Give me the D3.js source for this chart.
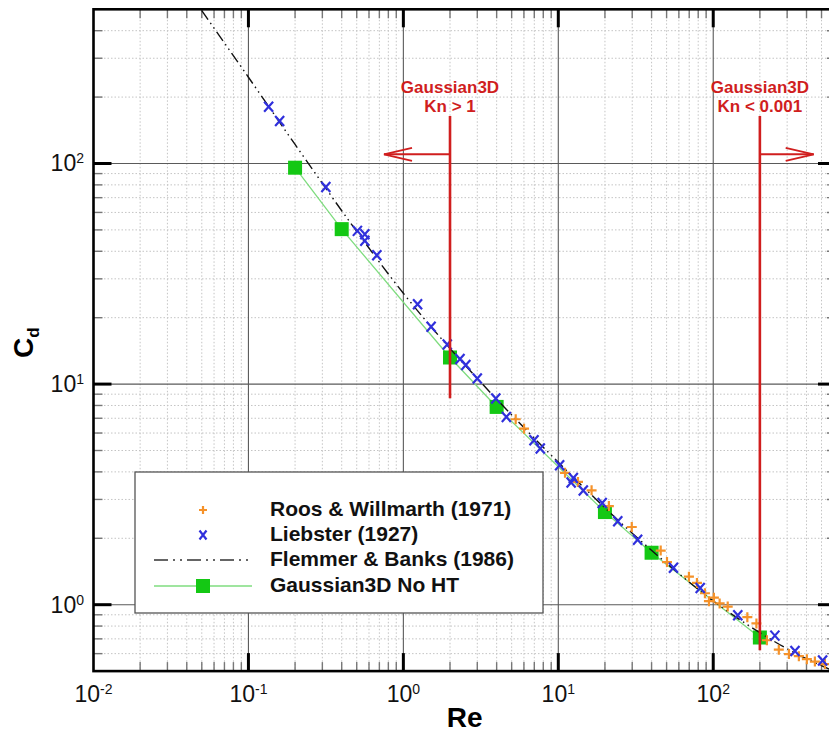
<!DOCTYPE html>
<html>
<head>
<meta charset="utf-8">
<script src="https://cdn.jsdelivr.net/npm/d3@7"></script>
<style>
  body { margin: 0; background: #fff; }
  svg { display: block; }
  text { font-family: "Liberation Sans", Arial, Helvetica, sans-serif; }
</style>
</head>
<body>
<svg id="chart" width="829" height="733"></svg>
<script>
// ---- data ----
const gaussRe = [0.2, 0.4, 2, 4, 20, 40, 200];
const gaussCd = [95.7, 50.4, 13.2, 7.88, 2.63, 1.72, 0.71];

const liebsterRe = [0.135, 0.159, 0.316, 0.505, 0.564, 0.564, 0.674, 1.235, 1.51, 1.92, 2.32, 2.53, 3.0, 3.95, 4.62, 6.97, 7.65, 10.2, 12.5, 12.1, 14.5, 19.2, 24.2, 32.5, 55.4, 82.4, 144, 250, 337, 508];
const liebsterCd = [180.6, 156, 78.3, 49.5, 47.8, 44.6, 38.4, 23.0, 18.2, 15.1, 13.0, 12.2, 10.6, 8.6, 7.1, 5.57, 5.11, 4.29, 3.75, 3.58, 3.29, 2.89, 2.39, 1.97, 1.47, 1.19, 0.896, 0.724, 0.617, 0.559];

const roosRe = [5.31, 6.01, 11.05, 13.4, 16.4, 21.2, 29.8, 45.8, 50.3, 69.7, 78.5, 88.4, 93.8, 101, 110, 124, 166, 190, 222, 265, 308, 357, 402, 453, 526];
const roosCd = [6.93, 6.28, 3.96, 3.60, 3.30, 2.80, 2.25, 1.76, 1.56, 1.34, 1.255, 1.127, 1.037, 1.076, 1.013, 0.981, 0.878, 0.822, 0.690, 0.625, 0.597, 0.584, 0.566, 0.552, 0.538];

const flemmerRe = [0.04, 0.05, 0.1, 0.2, 0.5, 1, 2, 3, 5, 10, 20, 30, 50, 100, 200, 300, 500, 620];
const flemmerCd = [616, 493, 246, 122, 49.2, 25.8, 14.5, 10.6, 7.25, 4.42, 2.75, 2.11, 1.54, 1.04, 0.747, 0.631, 0.529, 0.495];

const xTickExp = ["-2", "-1", "0", "1", "2"];
const xTickVal = [0.01, 0.1, 1, 10, 100];
const yTickExp = ["0", "1", "2"];
const yTickVal = [1, 10, 100];

const legendLabels = ["Roos & Willmarth (1971)", "Liebster (1927)", "Flemmer & Banks (1986)", "Gaussian3D No HT"];

// regime markers: Re at which the Knudsen limits sit, arrow span, label lines
const regimeRe = [2, 200];
const regimeArrowTip = [0.75, 445];
const regimeLabel = [["Gaussian3D", "Kn > 1"], ["Gaussian3D", "Kn < 0.001"]];
const regimeTopCd = [164, 164];
const regimeBottomCd = [8.63, 0.622];
const arrowCd = 110;

// ---- layout ----
const pL = 93.5, pT = 9.3, plotW = 742.5, plotH = 661.8;
const pB = pT + plotH, pR = pL + plotW;
const svg = d3.select("#chart");

const x = d3.scaleLog().domain([0.01, 620]).range([pL, pR]);
const y = d3.scaleLog().domain([0.5, 500]).range([pB, pT]);

const isDecade = v => Math.abs(Math.log10(v) - Math.round(Math.log10(v))) < 1e-9;
const xMinor = x.ticks().filter(v => !isDecade(v));
const yMinor = y.ticks().filter(v => !isDecade(v));
const xMajor = x.ticks().filter(isDecade);
const yMajor = y.ticks().filter(isDecade);

svg.append("defs").append("clipPath").attr("id", "plotClip")
  .append("rect").attr("x", pL).attr("y", pT).attr("width", plotW).attr("height", plotH);

// ---- grid ----
const grid = svg.append("g");
grid.selectAll("line.xm").data(xMinor).join("line")
  .attr("x1", d => x(d)).attr("x2", d => x(d)).attr("y1", pT).attr("y2", pB)
  .attr("stroke", "#c4c4c4").attr("stroke-width", 1).attr("stroke-dasharray", "1.5,2");
grid.selectAll("line.ym").data(yMinor).join("line")
  .attr("y1", d => y(d)).attr("y2", d => y(d)).attr("x1", pL).attr("x2", pR)
  .attr("stroke", "#c4c4c4").attr("stroke-width", 1).attr("stroke-dasharray", "1.5,2");
grid.selectAll("line.xM").data(xMajor).join("line")
  .attr("x1", d => x(d)).attr("x2", d => x(d)).attr("y1", pT).attr("y2", pB)
  .attr("stroke", "#5a5a5a").attr("stroke-width", 1.1);
grid.selectAll("line.yM").data(yMajor).join("line")
  .attr("y1", d => y(d)).attr("y2", d => y(d)).attr("x1", pL).attr("x2", pR)
  .attr("stroke", "#5a5a5a").attr("stroke-width", 1.1);

// ---- ticks on all four sides ----
const ticks = svg.append("g");
function tickSet(vals, len, w, col) {
  vals.forEach(v => {
    const px = x(v);
    ticks.append("line").attr("x1", px).attr("x2", px).attr("y1", pB).attr("y2", pB - len)
      .attr("stroke", col).attr("stroke-width", w);
    ticks.append("line").attr("x1", px).attr("x2", px).attr("y1", pT).attr("y2", pT + len)
      .attr("stroke", col).attr("stroke-width", w);
  });
}
function tickSetY(vals, len, w, col) {
  vals.forEach(v => {
    const py = y(v);
    ticks.append("line").attr("y1", py).attr("y2", py).attr("x1", pL).attr("x2", pL + len)
      .attr("stroke", col).attr("stroke-width", w);
    ticks.append("line").attr("y1", py).attr("y2", py).attr("x1", pR).attr("x2", pR - len)
      .attr("stroke", col).attr("stroke-width", w);
  });
}
tickSet(xMinor, 9, 1.4, "#777");
tickSetY(yMinor, 9, 1.4, "#777");
tickSet(xMajor.filter(v => v > 0.01), 18, 3, "#000");
tickSetY(yMajor, 18, 3, "#000");

// ---- data layer ----
const data = svg.append("g").attr("clip-path", "url(#plotClip)");

const gaussPts = gaussRe.map((r, i) => [x(r), y(gaussCd[i])]);
data.append("path").attr("d", d3.line()(gaussPts))
  .attr("fill", "none").attr("stroke", "#7fdc7f").attr("stroke-width", 1.3);
data.selectAll("rect.g").data(gaussPts).join("rect")
  .attr("x", d => d[0] - 7).attr("y", d => d[1] - 7).attr("width", 14).attr("height", 14)
  .attr("fill", "#14c814");

const flemPts = flemmerRe.map((r, i) => [x(r), y(flemmerCd[i])]);
data.append("path").attr("d", d3.line().curve(d3.curveMonotoneX)(flemPts))
  .attr("fill", "none").attr("stroke", "#111").attr("stroke-width", 1.4)
  .attr("stroke-dasharray", "11,4,1.5,4,1.5,4");

const plusPath = "M-5,0L5,0M0,-5L0,5";
const crossPath = "M-4.5,-5L4.5,5M-4.5,5L4.5,-5";
data.selectAll("path.r").data(roosRe.map((r, i) => [x(r), y(roosCd[i])])).join("path")
  .attr("d", plusPath).attr("transform", d => `translate(${d[0]},${d[1]})`)
  .attr("stroke", "#f5922a").attr("stroke-width", 2.2).attr("fill", "none");
data.selectAll("path.l").data(liebsterRe.map((r, i) => [x(r), y(liebsterCd[i])])).join("path")
  .attr("d", crossPath).attr("transform", d => `translate(${d[0]},${d[1]})`)
  .attr("stroke", "#3030dc").attr("stroke-width", 2.2).attr("fill", "none");

// ---- regime annotations ----
const red = "#d01e1e";
const ann = svg.append("g");
regimeRe.forEach((re, i) => {
  const px = x(re);
  ann.append("line").attr("x1", px).attr("x2", px)
    .attr("y1", y(regimeTopCd[i])).attr("y2", y(regimeBottomCd[i]))
    .attr("stroke", red).attr("stroke-width", 2.6);
  const ay = y(arrowCd), tip = x(regimeArrowTip[i]);
  const dir = tip > px ? 1 : -1;
  ann.append("line").attr("x1", px).attr("x2", tip).attr("y1", ay).attr("y2", ay)
    .attr("stroke", red).attr("stroke-width", 2);
  ann.append("path")
    .attr("d", `M${tip - dir * 28},${ay - 6.5}L${tip},${ay}L${tip - dir * 28},${ay + 6.5}`)
    .attr("fill", "none").attr("stroke", red).attr("stroke-width", 2);
  const ty = y(regimeTopCd[i]);
  regimeLabel[i].forEach((t, k) => {
    ann.append("text").attr("x", px).attr("y", ty - 23.5 + k * 19.8)
      .attr("text-anchor", "middle").attr("font-size", 17).attr("font-weight", "bold")
      .attr("fill", red).text(t);
  });
});

// ---- frame ----
svg.append("rect").attr("x", pL).attr("y", pT).attr("width", plotW).attr("height", plotH)
  .attr("fill", "none").attr("stroke", "#000").attr("stroke-width", 2.6);

// ---- tick labels ----
xTickVal.forEach((v, i) => {
  const t = svg.append("text").attr("x", x(v)).attr("y", 702).attr("text-anchor", "middle")
    .attr("font-size", 23).attr("fill", "#111");
  t.append("tspan").text("10");
  t.append("tspan").attr("dy", -8).attr("font-size", 14).text(xTickExp[i]);
});
yTickVal.forEach((v, i) => {
  const t = svg.append("text").attr("x", 84).attr("y", y(v) + 8).attr("text-anchor", "end")
    .attr("font-size", 23).attr("fill", "#111");
  t.append("tspan").text("10");
  t.append("tspan").attr("dy", -8).attr("font-size", 14).text(yTickExp[i]);
});

// ---- axis titles ----
svg.append("text").attr("x", (pL + pR) / 2).attr("y", 727).attr("text-anchor", "middle")
  .attr("font-size", 28).attr("font-weight", "bold").text("Re");
const ct = svg.append("text").attr("transform", "translate(33,358) rotate(-90)")
  .attr("font-size", 28).attr("font-weight", "bold");
ct.append("tspan").text("C");
ct.append("tspan").attr("dy", 6).attr("font-size", 17).text("d");

// ---- legend ----
const lg = svg.append("g");
lg.append("rect").attr("x", 135).attr("y", 472).attr("width", 408).attr("height", 141)
  .attr("fill", "#fff").attr("stroke", "#555").attr("stroke-width", 1.3);
const rowY = [508, 533, 558, 584];
legendLabels.forEach((t, i) => {
  lg.append("text").attr("x", 270).attr("y", rowY[i] + 7.5).attr("font-size", 21)
    .attr("font-weight", "bold").attr("fill", "#111").text(t);
});
lg.append("path").attr("d", "M-4,0L4,0M0,-4L0,4").attr("transform", `translate(203,${rowY[0] + 2})`)
  .attr("stroke", "#f5922a").attr("stroke-width", 2.2);
lg.append("path").attr("d", "M-3.5,-4.5L3.5,4.5M-3.5,4.5L3.5,-4.5").attr("transform", `translate(203,${rowY[1] + 2})`)
  .attr("stroke", "#3030dc").attr("stroke-width", 2.2);
lg.append("line").attr("x1", 154).attr("x2", 252).attr("y1", rowY[2] + 2).attr("y2", rowY[2] + 2)
  .attr("stroke", "#333").attr("stroke-width", 1.6).attr("stroke-dasharray", "14,5,2,5,2,5");
lg.append("line").attr("x1", 154).attr("x2", 252).attr("y1", rowY[3] + 2).attr("y2", rowY[3] + 2)
  .attr("stroke", "#7fdc7f").attr("stroke-width", 1.5);
lg.append("rect").attr("x", 196).attr("y", rowY[3] + 2 - 7).attr("width", 14).attr("height", 14)
  .attr("fill", "#14c814");
</script>
</body>
</html>
